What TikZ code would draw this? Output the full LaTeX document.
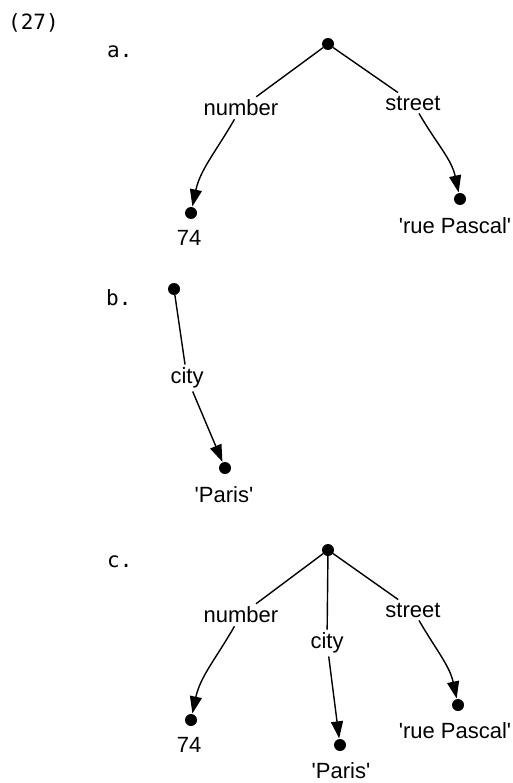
\documentclass[tikz,border=0pt]{standalone}
\usepackage{fontspec}
\setmainfont{Liberation Sans}
\newfontfamily\monofont{DejaVu Sans Mono}
\usetikzlibrary{arrows.meta}
\newcommand{\sq}{\textquotesingle}
\begin{document}
\begin{tikzpicture}[x=1pt,y=-1pt,
  dot/.style={circle,fill=black,inner sep=0pt,minimum size=12pt},
  lab/.style={font=\fontsize{22}{24}\selectfont,inner sep=3pt},
  val/.style={font=\fontsize{22}{24}\selectfont,inner sep=0pt},
  num/.style={font=\monofont\fontsize{21}{24}\selectfont,inner sep=0pt,anchor=base west},
  edge/.style={line width=1.4pt},
  arr/.style={line width=1.4pt,-{Triangle[length=17pt,width=12pt]},shorten >=0.5pt}]
\useasboundingbox (0,0) rectangle (512,783);
% labels
\node[num] (n27) at (8,30) {(27)};
\node[num] (na) at (107,58) {a.};
\node[num] (nb) at (106,305) {b.};
\node[num] (nc) at (107,567) {c.};
% tree a
\node[dot] (ra) at (328,44) {};
\node[lab] (numa) at (241,108) {number};
\node[lab] (stra) at (413,103) {street};
\node[dot] (d74a) at (191,213) {};
\node[dot] (dpa) at (460,199) {};
\node[val] (t74a) at (189,238) {74};
\node[val] (tpa) at (455,226) {\sq rue Pascal\sq};
\draw[edge] (ra) -- (numa);
\draw[edge] (ra) -- (stra);
\draw[arr] (numa) to[out=-120,in=78] (d74a);
\draw[arr] (stra) to[out=-60,in=102] (dpa);
% tree b
\node[dot] (rb) at (174,289) {};
\node[lab] (cityb) at (187,378) {city};
\node[dot] (dpb) at (225,468) {};
\node[val] (tpb) at (224,495) {\sq Paris\sq};
\draw[edge] (rb) -- (cityb);
\draw[arr] (cityb) -- (dpb);
% tree c
\node[dot] (rc) at (328,550) {};
\node[lab] (numc) at (241,615) {number};
\node[lab] (cityc) at (327,643) {city};
\node[lab] (strc) at (413,610) {street};
\node[dot] (d74c) at (191,720) {};
\node[dot] (dparc) at (340,745) {};
\node[dot] (dpc) at (458,705) {};
\node[val] (t74c) at (189,745) {74};
\node[val] (tparc) at (341,771) {\sq Paris\sq};
\node[val] (tpc) at (455,731) {\sq rue Pascal\sq};
\draw[edge] (rc) -- (numc);
\draw[edge] (rc) -- (cityc);
\draw[edge] (rc) -- (strc);
\draw[arr] (numc) to[out=-120,in=78] (d74c);
\draw[arr] (cityc) -- (dparc);
\draw[arr] (strc) to[out=-60,in=102] (dpc);
\end{tikzpicture}
\end{document}
